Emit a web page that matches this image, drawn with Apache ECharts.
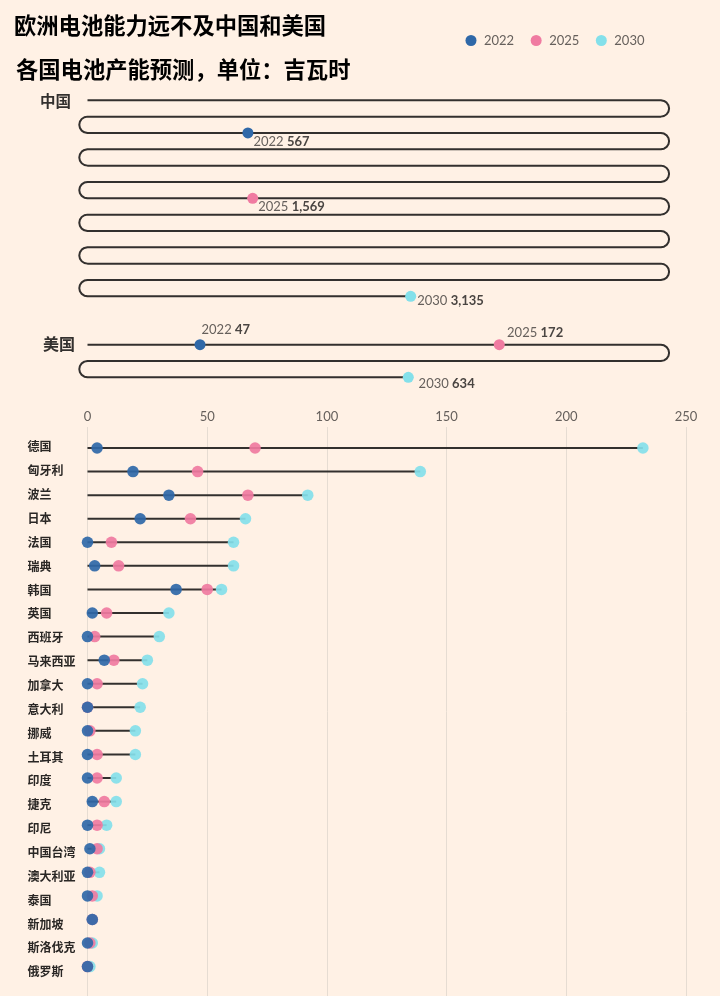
<!DOCTYPE html>
<html>
<head>
<meta charset="utf-8">
<script src="https://cdn.jsdelivr.net/npm/echarts@6/dist/echarts.min.js"></script>
<style>
  html, body { margin: 0; padding: 0; background: #fff1e5; }
  #chart { width: 720px; height: 996px; }
</style>
</head>
<body>
<div id="chart"></div>
<script>
const years = ["2022", "2025", "2030"];
const yearColors = ["#2f68a8", "#f07ba1", "#84e0ea"];

// totals wrap round the 0-250 scale, one row per 250 GWh
const chinaTotals = [567, 1569, 3135];
const usTotals = [47, 172, 634];

const countries = ["德国", "匈牙利", "波兰", "日本", "法国", "瑞典", "韩国", "英国", "西班牙", "马来西亚", "加拿大", "意大利", "挪威", "土耳其", "印度", "捷克", "印尼", "中国台湾", "澳大利亚", "泰国", "新加坡", "斯洛伐克", "俄罗斯"];
const cap2022 = [4, 19, 34, 22, 0, 3, 37, 2, 0, 7, 0, 0, 0, 0, 0, 2, 0, 1, 0, 0, 2, 0, 0];
const cap2025 = [70, 46, 67, 43, 10, 13, 50, 8, 3, 11, 4, 0, 1, 4, 4, 7, 4, 4, 1, 2, 2, 1, 0];
const cap2030 = [232, 139, 92, 66, 61, 61, 56, 34, 30, 25, 23, 22, 20, 20, 12, 12, 8, 5, 5, 4, 2, 2, 1];

const WRAP = 250;
const ARC_X = 3.43; // turn radius in axis units
const RIGHT_TURN = 239.5;
const SNAKE_MIN = -5; // room for the left turns
const cjk = "'Noto Sans CJK SC', sans-serif";
const latin = "Lato, 'Noto Sans CJK SC', sans-serif";

// [x, row] of a running total on the wrapped line
function wrapPos(total) {
  const row = Math.floor(total / WRAP);
  const rest = total - row * WRAP;
  return [row % 2 ? WRAP - rest : rest, row];
}

// the whole snake line from 0 up to total, with round turns at the row ends
function snakePath(total) {
  const end = wrapPos(total);
  const pts = [[0, 0]];
  for (let r = 0; r < end[1]; r++) {
    const right = r % 2 === 0;
    const cx = right ? RIGHT_TURN : 0;
    pts.push([cx, r]);
    for (let i = 1; i <= 16; i++) {
      const a = (i / 16) * Math.PI;
      pts.push([cx + (right ? 1 : -1) * ARC_X * Math.sin(a), r + 0.5 - 0.5 * Math.cos(a)]);
    }
  }
  pts.push(end);
  return pts;
}

function snakeLine(total, gridIndex) {
  return {
    type: "line",
    xAxisIndex: gridIndex,
    yAxisIndex: gridIndex,
    data: snakePath(total),
    showSymbol: false,
    silent: true,
    clip: false,
    lineStyle: { color: "#33302e", width: 2 },
    z: 2,
  };
}

function wrapDots(totals, gridIndex, offsets) {
  return totals.map((total, i) => ({
    type: "scatter",
    name: years[i],
    xAxisIndex: gridIndex,
    yAxisIndex: gridIndex,
    clip: false,
    symbolSize: 11,
    itemStyle: { color: yearColors[i], opacity: 1 },
    z: 3,
    label: {
      show: true,
      position: "right",
      distance: 0,
      offset: offsets[i],
      formatter: () => years[i] + " {b|" + total.toLocaleString("en-US") + "}",
      fontFamily: latin,
      fontSize: 13,
      color: "#66605c",
      rich: { b: { fontFamily: latin, fontSize: 13, fontWeight: "bold", color: "#4a4542" } },
    },
    data: [wrapPos(total)],
  }));
}

const rowCaps = [cap2022, cap2025, cap2030];

function hiddenSnakeX(gridIndex) {
  return { type: "value", gridIndex, min: SNAKE_MIN, max: WRAP, show: false };
}
function hiddenRowX(gridIndex) {
  return { type: "value", gridIndex, min: 0, max: WRAP, show: false };
}
function hiddenRowY(gridIndex, rows) {
  return { type: "value", gridIndex, min: 0, max: rows, inverse: true, show: false };
}

const UNIT = 598.5 / WRAP;
const snakeLeft = 87.5 + SNAKE_MIN * UNIT;
const snakeWidth = 598.5 - SNAKE_MIN * UNIT;

const option = {
  backgroundColor: "#fff1e5",
  animation: false,
  title: [
    { text: "欧洲电池能力远不及中国和美国", left: 14, top: 14, padding: 0, textStyle: { fontFamily: cjk, fontSize: 22.3, fontWeight: "bold", color: "#000" } },
    { text: "各国电池产能预测，单位：吉瓦时", left: 16, top: 58, padding: 0, textStyle: { fontFamily: cjk, fontSize: 22.3, fontWeight: "bold", color: "#000" } },
    { text: "中国", left: 40, top: 93, padding: 0, textStyle: { fontFamily: cjk, fontSize: 15.5, fontWeight: "bold", color: "#33302e" } },
    { text: "美国", left: 43, top: 336, padding: 0, textStyle: { fontFamily: cjk, fontSize: 16, fontWeight: "bold", color: "#33302e" } },
  ],
  legend: {
    data: years,
    left: 460.5,
    top: 29,
    itemWidth: 16,
    itemHeight: 11,
    itemGap: 16.5,
    icon: "circle",
    selectedMode: false,
    textStyle: { fontFamily: latin, fontSize: 13, color: "#66605c" },
  },
  grid: [
    { left: snakeLeft, width: snakeWidth, top: 100.3, height: 196 },
    { left: snakeLeft, width: snakeWidth, top: 344.7, height: 32.6 },
    { left: 87.5, width: 598.5, top: 427, height: 569 },
    { left: 87.5, width: 598.5, top: 436.2, height: 542.2 },
    // the country names sit on a slightly wider pitch than the dots
    { left: 87.5, width: 598.5, top: 434.9, height: 548.8 },
  ],
  xAxis: [
    hiddenSnakeX(0),
    hiddenSnakeX(1),
    {
      type: "value",
      gridIndex: 2,
      position: "top",
      min: 0,
      max: 250,
      interval: 50,
      axisLine: { show: false },
      axisTick: { show: true, inside: true, length: 9, lineStyle: { color: "#bdb6ae", width: 1 } },
      axisLabel: { fontFamily: latin, fontSize: 13, color: "#66605c", margin: 4 },
      splitLine: { show: true, lineStyle: { color: "#e6dcd2", width: 1 } },
    },
    hiddenRowX(3),
    hiddenRowX(4),
  ],
  yAxis: [
    hiddenRowY(0, 12),
    hiddenRowY(1, 2),
    { type: "value", gridIndex: 2, show: false, min: 0, max: 1 },
    { type: "category", gridIndex: 3, data: countries, inverse: true, show: false },
    {
      type: "category",
      gridIndex: 4,
      data: countries,
      inverse: true,
      axisLine: { show: false },
      axisTick: { show: false },
      axisLabel: { align: "left", margin: 60, fontFamily: cjk, fontSize: 12, fontWeight: "bold", color: "#2a2725", interval: 0 },
    },
  ],
  series: [
    snakeLine(chinaTotals[2], 0),
    snakeLine(usTotals[2], 1),
    ...wrapDots(chinaTotals, 0, [[0, 8.4], [0, 8.3], [1, 4.7]]),
    ...wrapDots(usTotals, 1, [[-4, -15], [2.3, -11.5], [4.8, 7]]),
    {
      type: "bar",
      xAxisIndex: 3,
      yAxisIndex: 3,
      barWidth: 2,
      silent: true,
      itemStyle: { color: "#33302e" },
      data: cap2030,
      z: 2,
    },
    // later years first so the 2022 dot ends up on top
    ...[2, 1, 0].map((k) => ({
      type: "scatter",
      name: years[k],
      xAxisIndex: 3,
      yAxisIndex: 3,
      symbolSize: 11.5,
      clip: false,
      itemStyle: { color: yearColors[k], opacity: 0.92 },
      z: 3,
      data: rowCaps[k].map((v, i) => [v, countries[i]]),
    })),
  ],
};

const chart = echarts.init(document.getElementById("chart"));
chart.setOption(option);
</script>
</body>
</html>
